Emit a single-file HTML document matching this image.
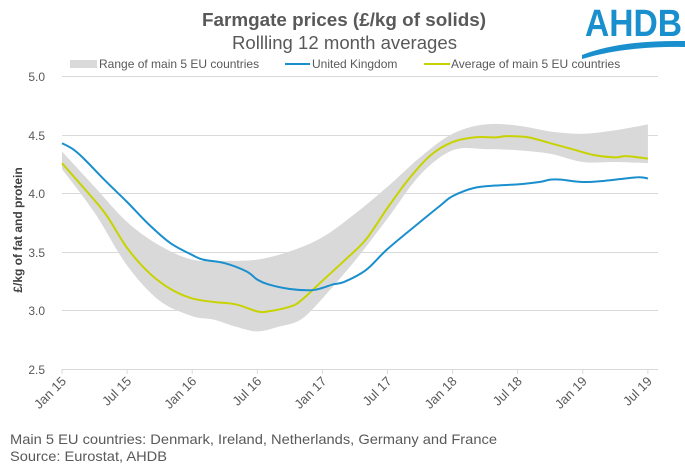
<!DOCTYPE html>
<html><head><meta charset="utf-8"><style>
body{margin:0;background:#fff;width:685px;height:464px;overflow:hidden;font-family:"Liberation Sans",sans-serif;}
svg{display:block}
text{font-family:"Liberation Sans",sans-serif;}
</style></head><body>
<svg id="s" width="685" height="464" viewBox="0 0 685 464">
<text x="202" y="26" textLength="284" lengthAdjust="spacingAndGlyphs" font-size="18" font-weight="bold" fill="#595959">Farmgate prices (£/kg of solids)</text>
<text x="232" y="49" textLength="225" lengthAdjust="spacingAndGlyphs" font-size="18" fill="#595959">Rollling 12 month averages</text>
<text x="585" y="36" textLength="97" lengthAdjust="spacingAndGlyphs" font-size="38" font-weight="bold" fill="#1a8fce">AHDB</text>
<path d="M582 55 Q620 40 685 41 L685 47 Q625 46 582 59 Z" fill="#1a8fce"/>
<rect x="70" y="60" width="27" height="8" fill="#d9d9d9"/>
<text x="99" y="68" font-size="12" fill="#595959">Range of main 5 EU countries</text>
<line x1="285" y1="64" x2="310" y2="64" stroke="#1a8fce" stroke-width="2"/>
<text x="312" y="68" font-size="12" fill="#595959">United Kingdom</text>
<line x1="424" y1="64" x2="450" y2="64" stroke="#c7d300" stroke-width="2"/>
<text x="451" y="68" font-size="12" fill="#595959">Average of main 5 EU countries</text>
<g stroke="#d9d9d9" stroke-width="1">
<line x1="62" y1="76.5" x2="658" y2="76.5"/><line x1="62" y1="135.5" x2="658" y2="135.5"/>
<line x1="62" y1="193.5" x2="658" y2="193.5"/><line x1="62" y1="252.5" x2="658" y2="252.5"/>
<line x1="62" y1="310.5" x2="658" y2="310.5"/><line x1="62" y1="369.5" x2="658" y2="369.5"/>
</g>
<g font-size="12" fill="#595959" text-anchor="end">
<text x="45" y="81">5.0</text><text x="45" y="140">4.5</text><text x="45" y="198">4.0</text>
<text x="45" y="257">3.5</text><text x="45" y="315">3.0</text><text x="45" y="374">2.5</text>
</g>
<text transform="translate(22,230) rotate(-90)" text-anchor="middle" font-size="12" font-weight="bold" fill="#404040">£/kg of fat and protein</text>
<g id="ticks"></g>
<path id="band" fill="#d9d9d9"/>
<path id="avg" fill="none" stroke="#c7d300" stroke-width="2"/>
<path id="uk" fill="none" stroke="#1a8fce" stroke-width="2"/>
<text x="10" y="444" textLength="487" lengthAdjust="spacingAndGlyphs" font-size="14" fill="#595959">Main 5 EU countries: Denmark, Ireland, Netherlands, Germany and France</text>
<text x="10" y="461" textLength="157" lengthAdjust="spacingAndGlyphs" font-size="14" fill="#595959">Source: Eurostat, AHDB</text>
</svg>
<script>
var X=function(m){return 62+m*10.85},Y=function(v){return 369-(v-2.5)*117.6};
function pts(a){return a.map(function(p){return [X(p[0]),Y(p[1])]})}
function cr(P){var d="M"+P[0][0]+" "+P[0][1];for(var i=0;i<P.length-1;i++){var p0=P[i-1]||P[i],p1=P[i],p2=P[i+1],p3=P[i+2]||p2;
d+=" C"+(p1[0]+(p2[0]-p0[0])/6)+" "+(p1[1]+(p2[1]-p0[1])/6)+" "+(p2[0]-(p3[0]-p1[0])/6)+" "+(p2[1]-(p3[1]-p1[1])/6)+" "+p2[0]+" "+p2[1];}return d}
var uk=[[0,4.42],[1,4.37],[2,4.29],[4,4.1],[6,3.92],[8,3.73],[10,3.57],[12,3.47],[13,3.43],[15,3.40],[17,3.33],[18,3.26],[19,3.22],[21,3.18],[23,3.17],[24,3.19],[25,3.22],[26,3.24],[28,3.34],[30,3.52],[33,3.75],[35,3.9],[36,3.97],[38,4.04],[40,4.06],[42,4.07],[44,4.09],[45,4.11],[46,4.11],[48,4.09],[50,4.10],[53,4.13],[54,4.12]];
var av=[[0,4.25],[2,4.04],[4,3.82],[6,3.53],[8,3.32],[10,3.18],[12,3.1],[14,3.07],[16,3.05],[18,2.99],[19,2.99],[21,3.03],[22,3.08],[24,3.25],[26,3.42],[28,3.6],[30,3.87],[32,4.12],[34,4.32],[36,4.43],[38,4.47],[40,4.47],[41,4.48],[43,4.47],[45,4.42],[47,4.37],[49,4.32],[51,4.30],[52,4.31],[54,4.29]];
var up=[[0,4.35],[3,4.05],[6,3.75],[9,3.55],[12,3.43],[15,3.42],[18,3.43],[21,3.5],[24,3.62],[27,3.82],[30,4.05],[33,4.3],[36,4.5],[39,4.58],[42,4.57],[45,4.52],[48,4.5],[51,4.53],[54,4.58]];
var lo=[[54,4.25],[51,4.26],[48,4.26],[45,4.33],[42,4.36],[39,4.37],[36,4.36],[33,4.15],[30,3.78],[27,3.42],[24,3.1],[22,2.92],[20,2.86],[18,2.82],[16,2.86],[14,2.92],[12,2.95],[9,3.08],[6,3.38],[3,3.83],[0,4.2]];
document.getElementById("uk").setAttribute("d",cr(pts(uk)));
document.getElementById("avg").setAttribute("d",cr(pts(av)));
document.getElementById("band").setAttribute("d",cr(pts(up))+" L"+cr(pts(lo)).slice(1)+" Z");
var labs=["Jan 15","Jul 15","Jan 16","Jul 16","Jan 17","Jul 17","Jan 18","Jul 18","Jan 19","Jul 19"],g=document.getElementById("ticks"),h="";
labs.forEach(function(l,i){var x=X(i*6);h+='<line x1="'+x+'" y1="369" x2="'+x+'" y2="374" stroke="#d9d9d9"/>';
h+='<text transform="translate('+(x+5)+',382) rotate(-45)" text-anchor="end" font-size="13" fill="#595959">'+l+'</text>';});
g.innerHTML=h;
</script>
</body></html>
